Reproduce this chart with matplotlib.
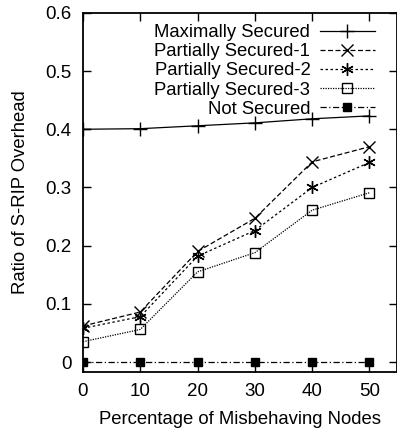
import matplotlib.pyplot as plt

plt.rcParams['font.family'] = ['Liberation Sans', 'DejaVu Sans']

pct = [0, 10, 20, 30, 40, 50]
max_sec = [0.400, 0.401, 0.406, 0.411, 0.418, 0.423]
part1 = [0.062, 0.086, 0.190, 0.247, 0.344, 0.370]
part2 = [0.058, 0.078, 0.182, 0.226, 0.300, 0.343]
part3 = [0.035, 0.056, 0.155, 0.188, 0.261, 0.291]
not_sec = [0, 0, 0, 0, 0, 0]

fig = plt.figure(figsize=(3.97, 4.29), dpi=100)
ax = fig.add_axes([0.209, 0.133, 0.791, 0.837])

ax.plot(pct, max_sec, 'k-', marker='+', ms=10, lw=0.9, label='Maximally Secured')
ax.plot(pct, part1, 'k', ls=(0, (4, 2)), marker='x', ms=8, lw=0.9, label='Partially Secured-1')
ax.plot(pct, part2, 'k', ls=(0, (2, 2)), marker=(6, 2, 0), ms=9, lw=0.9, label='Partially Secured-2')
ax.plot(pct, part3, 'k', ls=(0, (1, 1)), marker='s', mfc='none', ms=7, lw=0.9, label='Partially Secured-3')
ax.plot(pct, not_sec, 'k', ls=(0, (5, 2, 1, 2)), marker='s', ms=6, lw=0.9, label='Not Secured')

ax.set_xlim(0, 54.8)
ax.set_ylim(-0.017, 0.6)
ax.set_xticks(pct)
ax.set_yticks([0, 0.1, 0.2, 0.3, 0.4, 0.5, 0.6])
ax.set_yticklabels(['0', '0.1', '0.2', '0.3', '0.4', '0.5', '0.6'])
ax.tick_params(direction='in', top=True, right=True, length=6, width=1, labelsize=13.5, pad=8)
for s in ax.spines.values():
    s.set_linewidth(1.3)

ax.set_xlabel('Percentage of Misbehaving Nodes', fontsize=13.3, labelpad=8)
ax.set_ylabel('Ratio of S-RIP Overhead', fontsize=13.3, labelpad=12)

leg = ax.legend(loc='upper right', bbox_to_anchor=(0.93, 0.969), frameon=False, markerfirst=False,
                fontsize=13.3, handlelength=3.0, labelspacing=0.12, borderaxespad=0, borderpad=0,
                handletextpad=0.5)
for t in leg.get_texts():
    t.set_ha('right')
leg._legend_box.align = 'right'

fig.savefig('out.png', dpi=100)
